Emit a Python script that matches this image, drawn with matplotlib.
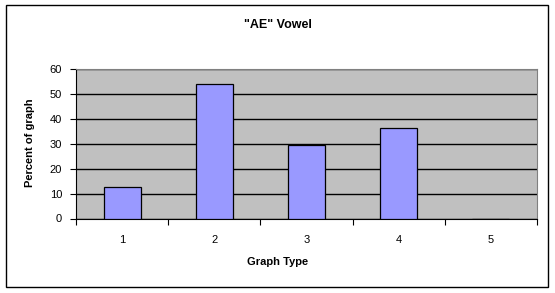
import matplotlib
matplotlib.use("Agg")
import matplotlib.pyplot as plt
from matplotlib.patches import Rectangle

# 数据
categories = ["1", "2", "3", "4", "5"]
percent = [12.7, 53.8, 29.6, 36.5, 0]
y_ticks = [0, 10, 20, 30, 40, 50, 60]

plt.rcParams['font.family'] = ['Liberation Sans', 'DejaVu Sans']

fig = plt.figure(figsize=(5.55, 2.93), dpi=100)
fig.patch.set_facecolor("white")
# 外框
fig.add_artist(Rectangle((6 / 555, 6 / 293), 542 / 555, 282 / 293,
                         transform=fig.transFigure, fill=False,
                         edgecolor="black", linewidth=1))

ax = fig.add_axes([76 / 555, 74.5 / 293, 461 / 555, 149.5 / 293])
ax.set_facecolor("#C0C0C0")

x = range(len(categories))
ax.bar(x, percent, width=0.4, color="#9999FF", edgecolor="black",
       linewidth=0.9, zorder=3)

ax.set_xlim(-0.5, len(categories) - 0.5)
ax.set_ylim(0, 60)
ax.set_yticks(y_ticks)
ax.set_yticklabels([str(v) for v in y_ticks], fontsize=8)
ax.yaxis.grid(True, color="black", linewidth=1, zorder=1)
ax.set_axisbelow(True)

# x 轴: 刻度在类别边界, 标签在中间
ax.set_xticks([i - 0.5 for i in range(len(categories) + 1)])
ax.set_xticklabels([])
ax.set_xticks(list(x), minor=True)
ax.set_xticklabels(categories, minor=True, fontsize=8)
ax.tick_params(axis="x", which="minor", length=0, pad=12)
ax.tick_params(axis="x", which="major", length=4, direction="out")
ax.tick_params(axis="y", length=4, direction="out", pad=6)

for side in ["top", "right"]:
    ax.spines[side].set_color("#808080")
ax.spines["left"].set_color("black")
ax.spines["bottom"].set_color("black")

fig.text(0.5, 268 / 293, '"AE" Vowel', ha="center", va="center",
         fontsize=9, fontweight="bold")
fig.text(0.5, 31 / 293, "Graph Type", ha="center", va="center",
         fontsize=8, fontweight="bold")
fig.text(30 / 555, 150 / 293, "Percent of graph", ha="center", va="center",
         rotation=90, fontsize=8, fontweight="bold")

plt.savefig("out.png", dpi=100)
plt.close()
